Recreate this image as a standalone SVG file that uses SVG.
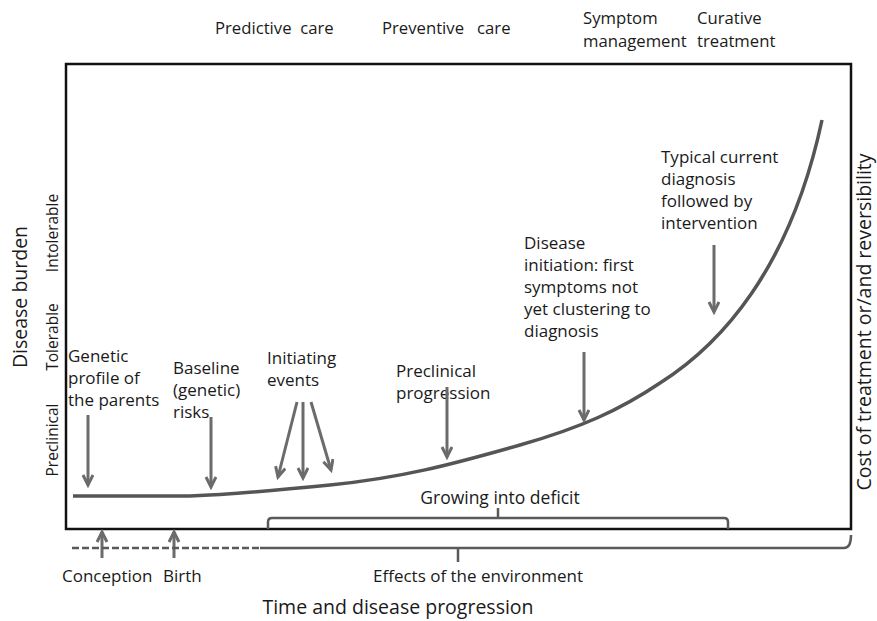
<svg xmlns="http://www.w3.org/2000/svg" width="877" height="621" viewBox="0 0 877 621">
<style>
text{font-family:"Open Sans","Liberation Sans",sans-serif;fill:#1a1a1a;}
.lbl{font-size:17px;}
.top{font-size:16.7px;}
.ax{font-size:15.5px;}
.big{font-size:19.5px;}
.arr{stroke:#6b6b6b;stroke-width:3;fill:none;marker-end:url(#ah);}
.curve{stroke:#555;stroke-width:3.5;fill:none;}
.br{stroke:#5a5a5a;stroke-width:2.5;fill:none;}
</style>
<defs>
<marker id="ah" markerUnits="userSpaceOnUse" markerWidth="14" markerHeight="14" refX="11" refY="6" orient="auto">
<path d="M1,1 L11,6 L1,11" stroke="#6b6b6b" stroke-width="3" fill="none"/>
</marker>
</defs>
<rect id="frame" x="66" y="64" width="785" height="465" fill="none" stroke="#111" stroke-width="2.5"/>
<g id="care-labels">
<text class="top" x="215" y="34" xml:space="preserve">Predictive  care</text>
<text class="top" x="382" y="34" xml:space="preserve">Preventive   care</text>
<text class="top" x="583" y="24">Symptom</text>
<text class="top" x="583" y="47">management</text>
<text class="top" x="697" y="24">Curative</text>
<text class="top" x="697" y="47">treatment</text>
</g>
<g id="axis-left">
<text class="big" text-anchor="middle" transform="translate(27,297) rotate(-90)">Disease burden</text>
<text class="ax" text-anchor="middle" transform="translate(58,440) rotate(-90)">Preclinical</text>
<text class="ax" text-anchor="middle" transform="translate(58,337) rotate(-90)">Tolerable</text>
<text class="ax" text-anchor="middle" transform="translate(58,233) rotate(-90)">Intolerable</text>
</g>
<g id="axis-right">
<text class="big" text-anchor="middle" transform="translate(871,322) rotate(-90)">Cost of treatment or/and reversibility</text>
</g>
<g id="curve">
<path class="curve" d="M73,496 L190,496 C240,494 280,490 330,485 C400,478 450,465 520,445 C580,428 620,410 660,383 C720,345 790,270 822,120"/>
</g>
<g id="n-genetic">
<text class="lbl" x="68" y="362">Genetic</text>
<text class="lbl" x="68" y="384">profile of</text>
<text class="lbl" x="68" y="406">the parents</text>
</g>
<g id="n-baseline">
<text class="lbl" x="173" y="374">Baseline</text>
<text class="lbl" x="173" y="396">(genetic)</text>
<text class="lbl" x="173" y="418">risks</text>
</g>
<g id="n-initiating">
<text class="lbl" x="267" y="364">Initiating</text>
<text class="lbl" x="267" y="386">events</text>
</g>
<g id="n-preclinical">
<text class="lbl" x="396" y="377">Preclinical</text>
<text class="lbl" x="396" y="399">progression</text>
</g>
<g id="n-initiation">
<text class="lbl" x="524" y="249">Disease</text>
<text class="lbl" x="524" y="271">initiation: first</text>
<text class="lbl" x="524" y="293">symptoms not</text>
<text class="lbl" x="524" y="315">yet clustering to</text>
<text class="lbl" x="524" y="337">diagnosis</text>
</g>
<g id="n-typical">
<text class="lbl" x="661" y="163">Typical current</text>
<text class="lbl" x="661" y="185">diagnosis</text>
<text class="lbl" x="661" y="207">followed by</text>
<text class="lbl" x="661" y="229">intervention</text>
</g>
<g id="n-deficit">
<text class="lbl" style="font-size:17.5px" x="500" y="504" text-anchor="middle">Growing into deficit</text>
</g>
<g id="n-conception"><text class="lbl" x="62" y="582">Conception</text></g>
<g id="n-birth"><text class="lbl" x="163" y="582">Birth</text></g>
<g id="n-environment"><text class="lbl" x="373" y="582">Effects of the environment</text></g>
<g id="n-time"><text class="big" x="398" y="614" text-anchor="middle">Time and disease progression</text></g>
<g id="connectors">
<line class="arr" x1="88" y1="415" x2="88" y2="485"/>
<line class="arr" x1="211" y1="417" x2="211" y2="487"/>
<line class="arr" x1="297" y1="402" x2="278" y2="477"/>
<line class="arr" x1="303" y1="402" x2="303" y2="478"/>
<line class="arr" x1="311" y1="402" x2="331" y2="470"/>
<line class="arr" x1="447" y1="387" x2="447" y2="457"/>
<line class="arr" x1="584" y1="352" x2="584" y2="420"/>
<line class="arr" x1="714" y1="245" x2="714" y2="312"/>
<line class="arr" x1="102" y1="558" x2="102" y2="532"/>
<line class="arr" x1="174" y1="558" x2="174" y2="532"/>
<path class="br" d="M268,529 L268,522 Q268,518 272,518 L724,518 Q728,518 728,522 L728,529 M498,518 L498,508"/>
<path class="br" d="M72,548 L260,548" stroke-dasharray="7,3"/>
<path class="br" d="M260,548 L844,548 Q851,548 851,535 M458,548 L458,562"/>
</g>
</svg>
